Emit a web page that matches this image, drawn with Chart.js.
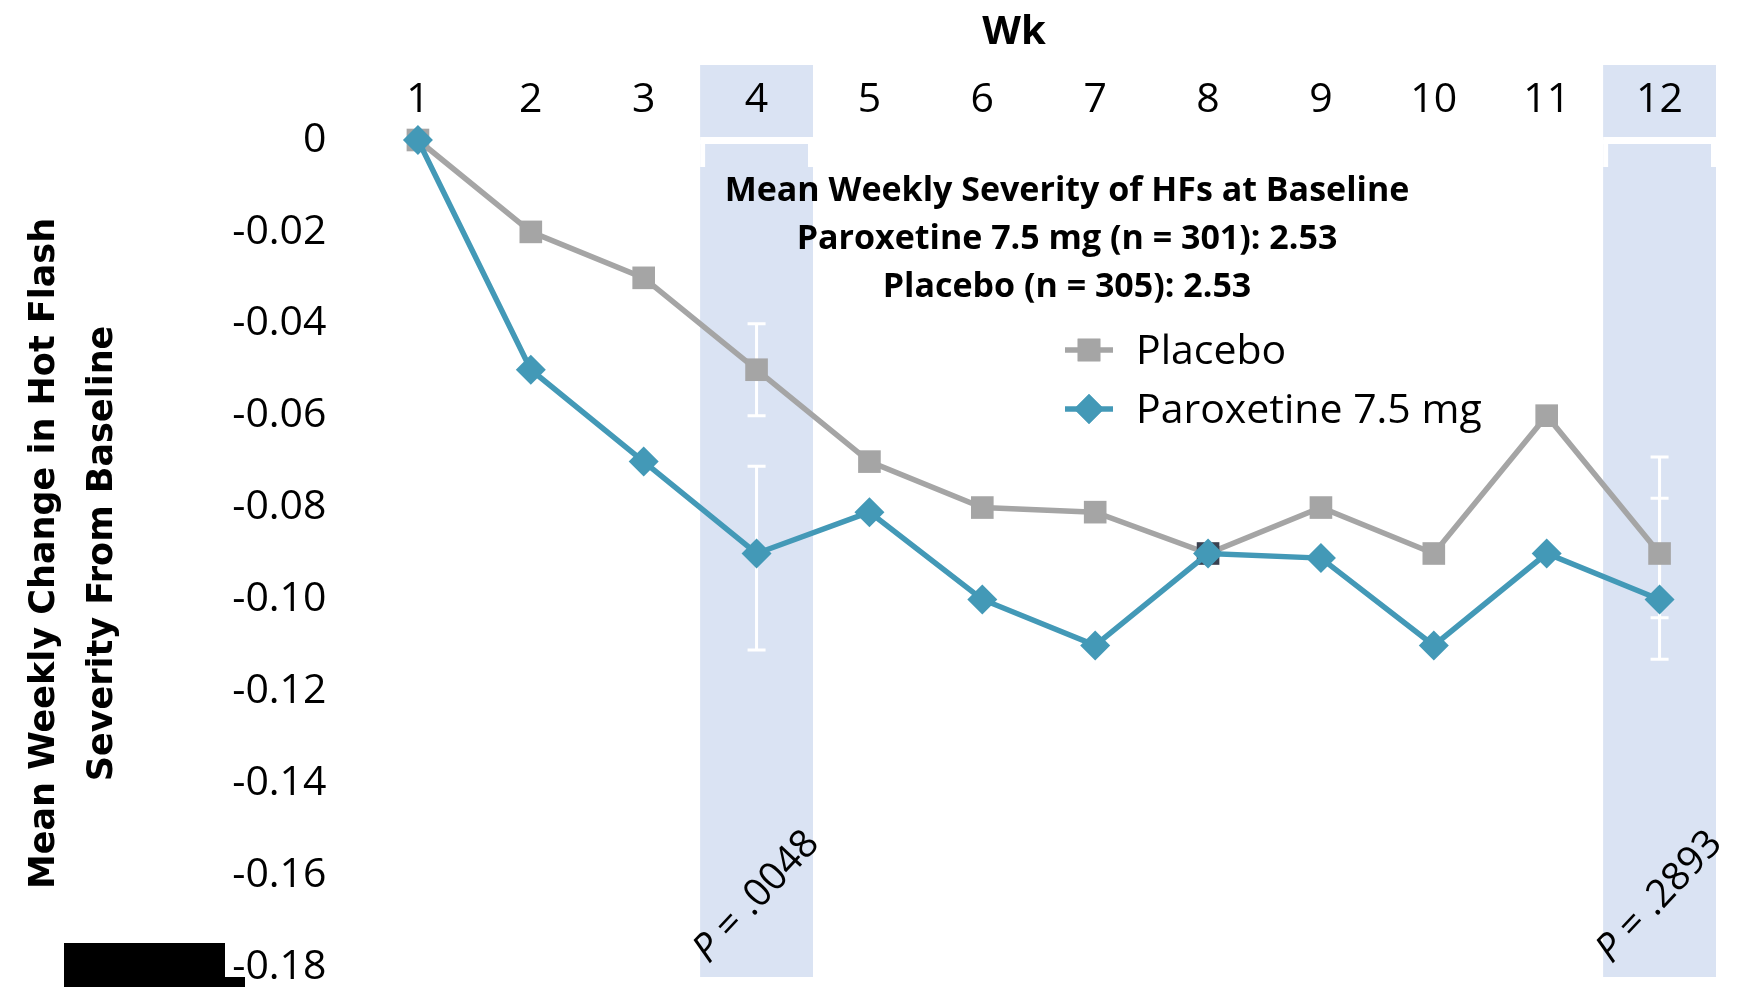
<!DOCTYPE html>
<html>
<head>
<meta charset="utf-8">
<script src="https://cdn.jsdelivr.net/npm/chart.js@4.4.1/dist/chart.umd.min.js"></script>
<style>
    html, body { margin: 0; padding: 0; background: #fff; }
    #wrap { position: relative; width: 1755px; height: 987px; }
</style>
</head>
<body>
<div id="wrap"><canvas id="chart" width="1755" height="987"></canvas></div>
<script>
// Weeks along the top axis
const weeks = ['1', '2', '3', '4', '5', '6', '7', '8', '9', '10', '11', '12'];

// Mean weekly change in hot flash severity from baseline
const placebo = [0, -0.02, -0.03, -0.05, -0.07, -0.08, -0.081, -0.09, -0.08, -0.09, -0.06, -0.09];
const paroxetine = [0, -0.05, -0.07, -0.09, -0.081, -0.10, -0.11, -0.09, -0.091, -0.11, -0.09, -0.10];

// Error bar ends (null = no bar that week)
const placeboErrHigh = [null, null, null, -0.04, null, null, null, null, null, null, null, -0.078];
const placeboErrLow = [null, null, null, -0.06, null, null, null, null, null, null, null, -0.104];
const paroxErrHigh = [null, null, null, -0.071, null, null, null, null, null, null, null, -0.069];
const paroxErrLow = [null, null, null, -0.111, null, null, null, null, null, null, null, -0.113];

// Highlighted weeks and their p values
const highlightWeeks = ['4', '12'];
const pValues = ['.0048', '.2893'];

// Y axis ticks
const yTickValues = [0, -0.02, -0.04, -0.06, -0.08, -0.10, -0.12, -0.14, -0.16, -0.18];
const yTickLabels = ['0', '-0.02', '-0.04', '-0.06', '-0.08', '-0.10', '-0.12', '-0.14', '-0.16', '-0.18'];

// Baseline note
const baselineNote = [
    'Mean Weekly Severity of HFs at Baseline',
    'Paroxetine 7.5 mg (n = 301): 2.53',
    'Placebo (n = 305): 2.53'
];

const GRAY = '#a5a5a5';
const TEAL = '#4399b7';
const BAND = '#dae3f3';
const FONT = '"Open Sans", "Noto Sans", sans-serif';

// Shaded week bands behind everything
const bandsPlugin = {
    id: 'bands',
    beforeDraw(chart) {
        const ctx = chart.ctx;
        const x = chart.scales.x, y = chart.scales.y;
        const half = (x.right - x.left) / weeks.length / 2;
        const y0 = y.getPixelForValue(0);
        ctx.save();
        highlightWeeks.forEach(w => {
            const cx = x.getPixelForValue(weeks.indexOf(w));
            ctx.fillStyle = BAND;
            ctx.fillRect(cx - half, 65, half * 2, 912);
            ctx.fillStyle = '#fff';
            ctx.fillRect(cx - half, y0 - 3, half * 2, 7);
            ctx.fillRect(cx - half, y0, 5, 27);
            ctx.fillRect(cx + half - 5, y0, 5, 27);
        });
        ctx.restore();
    }
};

// White error bars under the lines
const errorBarsPlugin = {
    id: 'errorBars',
    beforeDatasetsDraw(chart) {
        const ctx = chart.ctx;
        const x = chart.scales.x, y = chart.scales.y;
        const sets = [[placeboErrHigh, placeboErrLow], [paroxErrHigh, paroxErrLow]];
        ctx.save();
        ctx.strokeStyle = '#fff';
        ctx.lineWidth = 3;
        sets.forEach(([hi, lo]) => {
            hi.forEach((h, i) => {
                if (h === null) return;
                const px = x.getPixelForValue(i);
                const y1 = y.getPixelForValue(h), y2 = y.getPixelForValue(lo[i]);
                ctx.beginPath();
                ctx.moveTo(px, y1); ctx.lineTo(px, y2);
                ctx.moveTo(px - 9, y1); ctx.lineTo(px + 9, y1);
                ctx.moveTo(px - 9, y2); ctx.lineTo(px + 9, y2);
                ctx.stroke();
            });
        });
        ctx.restore();
    }
};

function drawPValue(ctx, cx, cy, value) {
    ctx.save();
    ctx.translate(cx, cy);
    ctx.rotate(-47 * Math.PI / 180);
    ctx.fillStyle = '#000';
    ctx.textBaseline = 'middle';
    ctx.textAlign = 'left';
    const fontI = 'italic 39px ' + FONT;
    const fontR = '39px ' + FONT;
    const rest = ' = ' + value;
    ctx.font = fontI;
    const wP = ctx.measureText('P').width;
    ctx.font = fontR;
    const wR = ctx.measureText(rest).width;
    const x0 = -(wP + wR) / 2;
    ctx.font = fontI;
    ctx.fillText('P', x0, 0);
    ctx.font = fontR;
    ctx.fillText(rest, x0 + wP, 0);
    ctx.restore();
}

// Title, note, legend, p values
const textPlugin = {
    id: 'texts',
    afterDraw(chart) {
        const ctx = chart.ctx;
        const x = chart.scales.x;
        ctx.save();
        ctx.fillStyle = '#000';
        ctx.textAlign = 'center';
        ctx.textBaseline = 'middle';
        ctx.font = 'bold 40px ' + FONT;
        ctx.fillText('Wk', 1014, 33);

        ctx.font = 'bold 34px ' + FONT;
        baselineNote.forEach((line, i) => ctx.fillText(line, 1067, 191 + i * 48));

        // legend
        const items = chart.data.datasets;
        items.forEach((ds, i) => {
            const ly = 350 + i * 59;
            ctx.strokeStyle = ds.borderColor;
            ctx.lineWidth = ds.borderWidth;
            ctx.beginPath();
            ctx.moveTo(1065, ly); ctx.lineTo(1113, ly);
            ctx.stroke();
            ctx.fillStyle = ds.borderColor;
            Chart.helpers.drawPoint(ctx, { pointStyle: ds.pointStyle, radius: ds.pointRadius, borderWidth: 0, rotation: 0 }, 1089, ly);
            ctx.fill();
            ctx.fillStyle = '#000';
            ctx.textAlign = 'left';
            ctx.font = '41px ' + FONT;
            ctx.fillText(ds.label, 1136, ly + 2);
        });

        highlightWeeks.forEach((w, i) => {
            drawPValue(ctx, x.getPixelForValue(weeks.indexOf(w)), 897, pValues[i]);
        });

        // black block in the lower left corner
        ctx.fillStyle = '#000';
        ctx.fillRect(64, 943, 161, 44);
        ctx.fillRect(225, 977, 20, 10);
        ctx.restore();
    }
};

new Chart(document.getElementById('chart'), {
    type: 'line',
    data: {
        labels: weeks,
        datasets: [
            {
                label: 'Placebo',
                data: placebo,
                borderColor: GRAY,
                backgroundColor: GRAY,
                pointBackgroundColor: ctx => ctx.dataIndex === 7 ? '#3a4150' : GRAY,
                borderWidth: 5.5,
                pointStyle: 'rect',
                pointRadius: 16,
                pointHoverRadius: 16,
                pointBorderWidth: 0,
                tension: 0,
                clip: false,
                order: 1
            },
            {
                label: 'Paroxetine 7.5 mg',
                data: paroxetine,
                borderColor: TEAL,
                backgroundColor: TEAL,
                borderWidth: 5.5,
                pointStyle: 'rectRot',
                pointRadius: 15,
                pointHoverRadius: 15,
                pointBorderWidth: 0,
                tension: 0,
                clip: false,
                order: 0
            }
        ]
    },
    options: {
        responsive: false,
        animation: false,
        events: [],
        layout: { padding: { left: 0, right: 39, top: 0, bottom: 20 } },
        plugins: {
            legend: { display: false },
            title: { display: false },
            tooltip: { enabled: false }
        },
        scales: {
            x: {
                type: 'category',
                position: 'top',
                offset: true,
                grid: { display: false, drawTicks: false },
                border: { display: false },
                ticks: {
                    color: '#000',
                    font: { family: FONT, size: 41 },
                    padding: 15,
                    maxRotation: 0,
                    autoSkip: false
                },
                afterFit: s => { s.height = 140; s.paddingLeft = 0; s.paddingRight = 0; }
            },
            y: {
                min: -0.18,
                max: 0,
                grid: { display: false, drawTicks: false },
                border: { display: false },
                afterBuildTicks: s => { s.ticks = yTickValues.slice().reverse().map(v => ({ value: v })); },
                ticks: {
                    color: '#000',
                    font: { family: FONT, size: 41 },
                    padding: 35,
                    callback: v => yTickLabels[yTickValues.findIndex(t => Math.abs(t - v) < 1e-9)]
                },
                title: {
                    display: true,
                    text: ['Mean Weekly Change in Hot Flash', 'Severity From Baseline'],
                    color: '#000',
                    font: { family: '"DejaVu Sans", sans-serif', weight: 'bold', size: 35, lineHeight: 1.65 },
                    padding: { top: 16, bottom: 0 }
                },
                afterFit: s => { s.width = 361.5; s.paddingTop = 0; s.paddingBottom = 0; }
            }
        }
    },
    plugins: [bandsPlugin, errorBarsPlugin, textPlugin]
});
</script>
</body>
</html>
